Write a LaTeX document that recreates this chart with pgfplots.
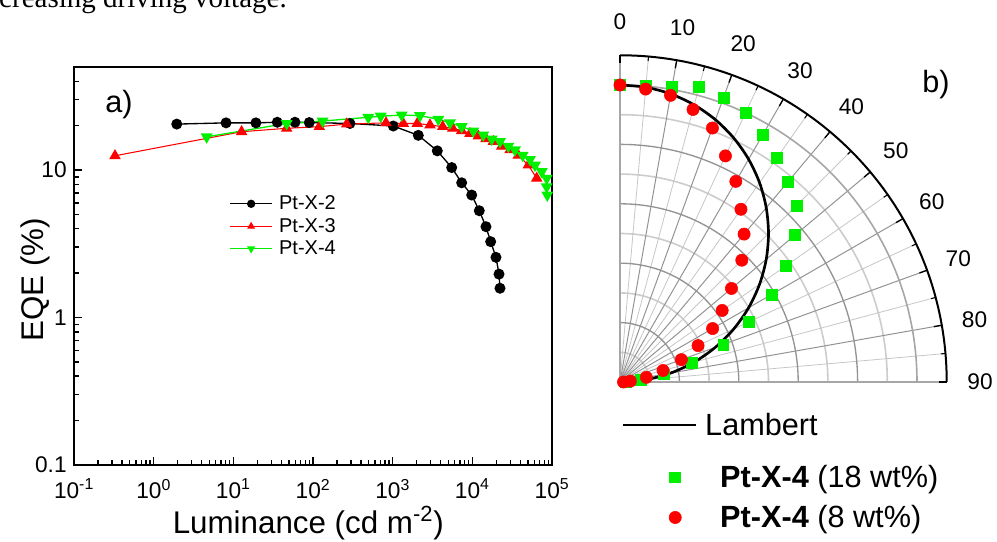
\documentclass[border=0pt]{standalone}
\usepackage{pgfplots}
\pgfplotsset{compat=1.18}
\usepackage{pgfplotstable}
\usepackage{fontspec}
\setmainfont{Liberation Sans}
\newfontfamily\seriffont{Liberation Serif}
\definecolor{pgreen}{RGB}{0,240,0}
\definecolor{pred}{RGB}{255,0,0}

\pgfplotstableread{
x y
1.95 20.5
8.1 20.9
19.2 20.9
35.6 21.1
59.4 21.1
89.8 21.0
291 20.7
1018 19.9
2098 17.2
3631 13.5
5508 10.4
7350 8.2
9820 6.77
12220 5.30
14830 4.13
16990 3.27
19810 2.56
21620 1.97
22240 1.58
}\dataA

\pgfplotstableread{
x y
0.327 12.5
12.7 18.2
46.7 19.2
120 19.7
265 20.5
824 20.9
1360 20.7
2037 20.7
2940 20.2
4246 19.7
5666 19.2
7350 18.5
9340 17.7
11880 17.0
14830 16.3
18330 15.6
23350 14.5
29700 13.7
37760 12.6
50400 10.8
64260 8.8
}\dataB

\pgfplotstableread{
x y
4.63 16.8
46.7 20.7
132 21.5
494 22.8
708 23.2
1298 23.6
2203 23.4
3741 22.1
5248 20.9
7350 19.7
10280 18.4
13710 17.3
17500 16.2
22240 15.6
28270 14.5
34300 13.7
42850 12.6
52960 11.8
61100 10.8
74200 9.75
85700 8.8
85700 7.71
87300 6.77
}\dataC

\pgfplotstableread{
theta r
0 1
5 0.9962
10 0.9848
15 0.9659
20 0.9397
25 0.9063
30 0.8660
35 0.8192
40 0.7660
45 0.7071
50 0.6428
55 0.5736
60 0.5
65 0.4226
70 0.3420
75 0.2588
80 0.1736
85 0.0872
90 0
}\lambert

\pgfplotstableread{
theta r
0 1.0
5 1.0
10 1.01
15 1.03
20 1.02
25 1.0
30 0.96
35 0.92
40 0.88
45 0.84
50 0.77
55 0.68
60 0.59
65 0.48
70 0.37
75 0.25
80 0.15
85 0.07
90 0.02
}\polgreen

\pgfplotstableread{
theta r
0 1.0
5 0.99
10 0.98
15 0.95
20 0.91
25 0.84
30 0.78
35 0.71
40 0.65
45 0.58
50 0.49
55 0.42
60 0.36
65 0.29
70 0.22
75 0.15
80 0.09
85 0.035
90 0.012
}\polred

\begin{document}
\begin{tikzpicture}
\path[use as bounding box] (0,0) rectangle (747.75pt,406.5pt);
\begin{scope}
\clip (0,0) rectangle (747.75pt,406.5pt);
\node[anchor=base east, inner sep=0pt, font=\seriffont\fontsize{21.75pt}{26pt}\selectfont] at (215.25pt,400.5pt) {increasing driving voltage.};
\end{scope}

% ---------------- panel a ----------------
\begin{axis}[
  at={(55.5pt,57.75pt)}, anchor=south west,
  scale only axis, width=358.5pt, height=298.5pt,
  xmode=log, ymode=log,
  xmin=0.1, xmax=1e5, ymin=0.1, ymax=50,
  enlargelimits=false,
  axis line style={line width=1.5pt},
  tick align=inside, tick pos=left,
  major tick length=6pt, minor tick length=3.5pt,
  every tick/.style={black, line width=1.1pt},
  xtick={0.1,1,10,100,1000,10000,100000},
  xticklabels={10\textsuperscript{-1},10\textsuperscript{0},10\textsuperscript{1},10\textsuperscript{2},10\textsuperscript{3},10\textsuperscript{4},10\textsuperscript{5}},
  minor xtick={0.2,0.3,0.4,0.5,0.6,0.7,0.8,0.9,2,3,4,5,6,7,8,9,20,30,40,50,60,70,80,90,200,300,400,500,600,700,800,900,2000,3000,4000,5000,6000,7000,8000,9000,20000,30000,40000,50000,60000,70000,80000,90000},
  ytick={0.1,1,10}, yticklabels={0.1,1,10},
  minor ytick={0.2,0.3,0.4,0.5,0.6,0.7,0.8,0.9,2,3,4,5,6,7,8,9,20,30,40,50},
  tick label style={font=\fontsize{17pt}{20pt}\selectfont},
  xticklabel style={yshift=-7pt},
  yticklabel style={xshift=-2pt},
  xlabel={Luminance (cd m\textsuperscript{-2})},
  ylabel={EQE (\%)},
  label style={font=\fontsize{23.5pt}{28pt}\selectfont},
  x label style={at={(axis description cs:0.49,-0.145)}, anchor=center},
  y label style={at={(axis description cs:-0.0816,0.465)}, anchor=center},
  clip=false,
  legend cell align=left,
  legend style={at={(0.324,0.60)}, anchor=west, draw=none, fill=none, inner sep=0pt,
    row sep=4.9pt, nodes={inner sep=0pt}, font=\fontsize{15pt}{18pt}\selectfont},
  legend image code/.code={\draw[#1, mark size=2.6pt] plot coordinates {(0pt,0pt) (16pt,0pt) (32pt,0pt)};},
  legend image post style={mark repeat=2, mark phase=2},
]
\addplot[black, line width=1pt, mark=*, mark size=3.6pt] table {\dataA};
\addlegendentry{\hspace{4.5pt}Pt-X-2\rule[-3.8pt]{0pt}{13.5pt}}
\addplot[pred, line width=0.8pt, mark=triangle*, mark size=4.2pt] table {\dataB};
\addlegendentry{\hspace{4.5pt}Pt-X-3\rule[-3.8pt]{0pt}{13.5pt}}
\addplot[pgreen, line width=1pt, mark=triangle*, mark size=4.2pt, mark options={rotate=180}] table {\dataC};
\addlegendentry{\hspace{4.5pt}Pt-X-4\rule[-3.8pt]{0pt}{13.5pt}}
\end{axis}
\node[anchor=base west, inner sep=0pt, font=\fontsize{23pt}{27pt}\selectfont] at (78.75pt,321.75pt) {a)};

% ---------------- panel b grid ----------------
\begin{scope}[shift={(465pt,120pt)}]
  \foreach \r in {0.1,0.3,0.5,0.7,0.9} {
    \draw[gray!40, line width=1.2pt] (0pt,{\r*222.75pt}) arc[start angle=90, end angle=0, radius={\r*222.75pt}];
  }
  \foreach \a in {5,15,...,85} {
    \draw[gray!45, line width=0.6pt] (0,0) -- ({90-\a}:{1.1*222.75pt});
  }
  \foreach \a in {10,20,...,80} {
    \draw[gray!85, line width=0.75pt] (0,0) -- ({90-\a}:{1.1*222.75pt});
  }
  \foreach \r in {0.2,0.4,0.6,0.8} {
    \draw[gray!85, line width=1pt] (0pt,{\r*222.75pt}) arc[start angle=90, end angle=0, radius={\r*222.75pt}];
  }
  \draw[gray!70, line width=1.2pt] (0pt,222.75pt) arc[start angle=90, end angle=0, radius=222.75pt];
  \draw[gray!70, line width=1.4pt] (0pt,245.025pt) -- (0,0) -- (245.025pt,0pt);
  \draw[black, line width=1.5pt] (0pt,245.025pt) arc[start angle=90, end angle=0, radius=245.025pt];
  \foreach \a in {0,10,...,90} {
    \draw[black, line width=1pt] ({90-\a}:{245.025pt}) -- ({90-\a}:{239pt});
    \node[font=\fontsize{17pt}{20pt}\selectfont] at ({90-\a}:270pt) {\a};
  }
  \foreach \a in {5,15,...,85} {
    \draw[black, line width=0.8pt] ({90-\a}:{245.025pt}) -- ({90-\a}:{241.5pt});
  }
\end{scope}

% ---------------- panel b data ----------------
\begin{axis}[
  at={(465pt,120pt)}, anchor=south west,
  scale only axis, width=245.025pt, height=245.025pt,
  xmin=0, xmax=1.1, ymin=0, ymax=1.1, enlargelimits=false,
  hide axis, clip=false,
  legend cell align=left,
  legend style={at={(0.006,-0.3532)}, anchor=west, draw=none, fill=none, inner sep=0pt,
    row sep=12pt, nodes={inner sep=0pt}, font=\fontsize{23pt}{27pt}\selectfont},
  legend image code/.code={\path[draw=none, fill=none] (0pt,0pt) -- (54.75pt,0pt); \draw[#1] plot coordinates {(39.75pt,0pt)};},
]
\addplot[black, line width=2pt, smooth, no markers, data cs=polar, forget plot] table[x expr={90-\thisrow{theta}}, y=r] {\lambert};
\addplot[only marks, mark=square*, mark size=4.1pt, pgreen, data cs=polar] table[x expr={90-\thisrow{theta}}, y=r] {\polgreen};
\addlegendentry{\hspace{18.75pt}\textbf{Pt-X-4} (18 wt\%)\rule[-6.3pt]{0pt}{22.9pt}}
\addplot[only marks, mark=*, mark size=4.6pt, pred, data cs=polar] table[x expr={90-\thisrow{theta}}, y=r] {\polred};
\addlegendentry{\hspace{18.75pt}\textbf{Pt-X-4} (8 wt\%)\rule[-6.3pt]{0pt}{22.9pt}}
\end{axis}

\begin{axis}[
  at={(465pt,120pt)}, anchor=south west,
  scale only axis, width=245.025pt, height=245.025pt,
  xmin=0, xmax=1.1, ymin=0, ymax=1.1, enlargelimits=false,
  hide axis, clip=false,
  legend cell align=left,
  legend style={at={(0.006,-0.1315)}, anchor=west, draw=none, fill=none, inner sep=0pt,
    row sep=0pt, nodes={inner sep=0pt}, font=\fontsize{23pt}{27pt}\selectfont},
  legend image code/.code={\draw[#1] (0pt,0pt) -- (54.75pt,0pt);},
]
\addlegendimage{black, line width=1.5pt}
\addlegendentry{\hspace{6pt}Lambert\rule[-6.3pt]{0pt}{22.9pt}}
\end{axis}
\node[anchor=base west, inner sep=0pt, font=\fontsize{23pt}{27pt}\selectfont] at (691.5pt,336.75pt) {b)};
\end{tikzpicture}
\end{document}
